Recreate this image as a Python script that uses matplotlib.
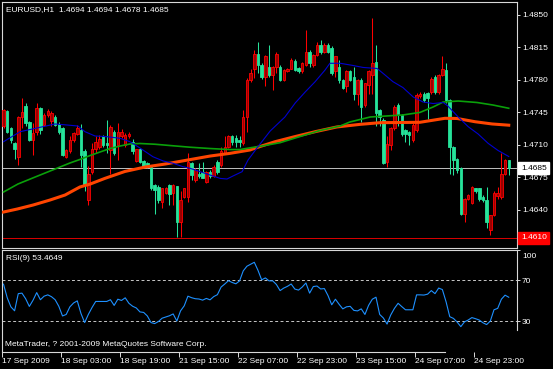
"""EURUSD H1 candlestick chart with three moving averages and RSI(9),
drawn in the MetaTrader dark style."""

import matplotlib
matplotlib.use("Agg")
import matplotlib.pyplot as plt
import matplotlib.transforms as mtransforms
import numpy as np

# ---- data ------------------------------------------------------------------
OPEN = [
    1.4730, 1.4746, 1.4728, 1.4712, 1.4697, 1.4740, 1.4752, 1.4735, 1.4715, 1.4724,
    1.4750, 1.4731, 1.4742, 1.4736, 1.4740, 1.4732, 1.4728, 1.4697, 1.4703, 1.4715,
    1.4722, 1.4726, 1.4703, 1.4651, 1.4681, 1.4706, 1.4708, 1.4719, 1.4712, 1.4704,
    1.4724, 1.4710, 1.4719, 1.4710, 1.4719, 1.4713, 1.4693, 1.4705, 1.4693, 1.4690,
    1.4686, 1.4667, 1.4665, 1.4649, 1.4658, 1.4667, 1.4658, 1.4666, 1.4627, 1.4654,
    1.4654, 1.4690, 1.4672, 1.4679, 1.4681, 1.4670, 1.4681, 1.4676, 1.4692, 1.4688,
    1.4701, 1.4708, 1.4719, 1.4717, 1.4715, 1.4712, 1.4740, 1.4780, 1.4791, 1.4808,
    1.4796, 1.4783, 1.4794, 1.4785, 1.4794, 1.4794, 1.4780, 1.4789, 1.4792, 1.4800,
    1.4793, 1.4789, 1.4796, 1.4810, 1.4796, 1.4807, 1.4817, 1.4810, 1.4817, 1.4814,
    1.4789, 1.4794, 1.4780, 1.4773, 1.4789, 1.4783, 1.4765, 1.4780, 1.4753, 1.4774,
    1.4785, 1.4799, 1.4747, 1.4737, 1.4692, 1.4710, 1.4728, 1.4753, 1.4742, 1.4726,
    1.4724, 1.4715, 1.4726, 1.4762, 1.4765, 1.4766, 1.4767, 1.4783, 1.4767, 1.4785,
    1.4790, 1.4758, 1.4708, 1.4695, 1.4685, 1.4636, 1.4652, 1.4647, 1.4663, 1.4663,
    1.4654, 1.4651, 1.4618, 1.4635, 1.4655, 1.4654, 1.4679, 1.4694,
]
HIGH = [
    1.4748, 1.4747, 1.4729, 1.4713, 1.4741, 1.4760, 1.4755, 1.4736, 1.4733, 1.4755,
    1.4751, 1.4744, 1.4748, 1.4746, 1.4742, 1.4735, 1.4729, 1.4706, 1.4719, 1.4724,
    1.4731, 1.4732, 1.4706, 1.4687, 1.4712, 1.4719, 1.4721, 1.4721, 1.4737, 1.4731,
    1.4726, 1.4733, 1.4727, 1.4723, 1.4724, 1.4716, 1.4706, 1.4707, 1.4694, 1.4692,
    1.4687, 1.4668, 1.4667, 1.4664, 1.4665, 1.4668, 1.4668, 1.4666, 1.4660, 1.4664,
    1.4701, 1.4692, 1.4685, 1.4690, 1.4692, 1.4682, 1.4683, 1.4688, 1.4694, 1.4708,
    1.4719, 1.4721, 1.4721, 1.4721, 1.4719, 1.4747, 1.4782, 1.4791, 1.4812, 1.4821,
    1.4798, 1.4807, 1.4817, 1.4795, 1.4810, 1.4796, 1.4792, 1.4793, 1.4803, 1.4802,
    1.4794, 1.4799, 1.4833, 1.4812, 1.4808, 1.4821, 1.4823, 1.4819, 1.4819, 1.4816,
    1.4806, 1.4801, 1.4781, 1.4790, 1.4790, 1.4794, 1.4781, 1.4782, 1.4777, 1.4790,
    1.4846, 1.4817, 1.4748, 1.4739, 1.4720, 1.4729, 1.4753, 1.4755, 1.4743, 1.4727,
    1.4725, 1.4733, 1.4766, 1.4767, 1.4767, 1.4767, 1.4783, 1.4785, 1.4786, 1.4805,
    1.4798, 1.4759, 1.4709, 1.4696, 1.4686, 1.4653, 1.4657, 1.4666, 1.4664, 1.4664,
    1.4656, 1.4665, 1.4635, 1.4660, 1.4665, 1.4701, 1.4695, 1.4694,
]
LOW = [
    1.4728, 1.4723, 1.4712, 1.4695, 1.4688, 1.4728, 1.4730, 1.4714, 1.4699, 1.4721,
    1.4722, 1.4730, 1.4740, 1.4730, 1.4730, 1.4722, 1.4698, 1.4696, 1.4701, 1.4713,
    1.4721, 1.4686, 1.4660, 1.4645, 1.4679, 1.4701, 1.4705, 1.4708, 1.4701, 1.4679,
    1.4699, 1.4694, 1.4717, 1.4708, 1.4717, 1.4700, 1.4691, 1.4690, 1.4686, 1.4685,
    1.4661, 1.4636, 1.4647, 1.4642, 1.4657, 1.4645, 1.4645, 1.4611, 1.4611, 1.4653,
    1.4649, 1.4672, 1.4670, 1.4674, 1.4674, 1.4669, 1.4674, 1.4675, 1.4679, 1.4686,
    1.4701, 1.4707, 1.4710, 1.4708, 1.4708, 1.4710, 1.4724, 1.4778, 1.4782, 1.4787,
    1.4781, 1.4773, 1.4783, 1.4769, 1.4787, 1.4779, 1.4779, 1.4788, 1.4791, 1.4789,
    1.4787, 1.4787, 1.4795, 1.4794, 1.4794, 1.4805, 1.4808, 1.4809, 1.4809, 1.4785,
    1.4783, 1.4776, 1.4770, 1.4767, 1.4779, 1.4758, 1.4753, 1.4735, 1.4751, 1.4765,
    1.4765, 1.4730, 1.4730, 1.4689, 1.4686, 1.4704, 1.4726, 1.4730, 1.4720, 1.4713,
    1.4710, 1.4713, 1.4724, 1.4760, 1.4756, 1.4738, 1.4765, 1.4765, 1.4765, 1.4784,
    1.4755, 1.4679, 1.4678, 1.4680, 1.4635, 1.4627, 1.4651, 1.4646, 1.4658, 1.4650,
    1.4649, 1.4620, 1.4613, 1.4633, 1.4652, 1.4652, 1.4678, 1.4678,
]
CLOSE = [
    1.4747, 1.4724, 1.4715, 1.4706, 1.4740, 1.4745, 1.4733, 1.4715, 1.4723, 1.4750,
    1.4726, 1.4742, 1.4746, 1.4744, 1.4731, 1.4724, 1.4699, 1.4704, 1.4715, 1.4723,
    1.4728, 1.4699, 1.4668, 1.4679, 1.4706, 1.4713, 1.4716, 1.4710, 1.4710, 1.4729,
    1.4701, 1.4724, 1.4724, 1.4721, 1.4722, 1.4703, 1.4705, 1.4692, 1.4687, 1.4686,
    1.4663, 1.4661, 1.4651, 1.4663, 1.4663, 1.4657, 1.4667, 1.4627, 1.4651, 1.4663,
    1.4692, 1.4678, 1.4683, 1.4676, 1.4674, 1.4681, 1.4676, 1.4686, 1.4681, 1.4703,
    1.4708, 1.4719, 1.4713, 1.4713, 1.4713, 1.4740, 1.4780, 1.4787, 1.4808, 1.4796,
    1.4783, 1.4805, 1.4785, 1.4794, 1.4808, 1.4780, 1.4790, 1.4792, 1.4801, 1.4790,
    1.4789, 1.4798, 1.4810, 1.4798, 1.4807, 1.4817, 1.4810, 1.4817, 1.4810, 1.4787,
    1.4805, 1.4780, 1.4771, 1.4789, 1.4780, 1.4765, 1.4780, 1.4751, 1.4776, 1.4789,
    1.4798, 1.4744, 1.4740, 1.4690, 1.4711, 1.4728, 1.4751, 1.4742, 1.4722, 1.4722,
    1.4721, 1.4731, 1.4764, 1.4765, 1.4758, 1.4760, 1.4781, 1.4767, 1.4785, 1.4792,
    1.4758, 1.4708, 1.4694, 1.4683, 1.4636, 1.4652, 1.4656, 1.4665, 1.4660, 1.4652,
    1.4651, 1.4627, 1.4634, 1.4658, 1.4658, 1.4679, 1.4694, 1.4685,
]

# moving averages, sampled at bar positions
MA_FAST_BAR = [0, 4.5, 10.7, 14, 17.2, 20.2, 22.1, 24.8, 28.1, 31.6, 34.3, 37,
               40.5, 43.3, 46, 48.7, 50.6, 53.3, 56, 58.7, 60.6, 62.2, 64.7,
               66.3, 69, 72.3, 76.3, 79.1, 81.8, 84.5, 87.2, 88.5, 91.3, 94.8,
               97.5, 101.3, 102.9, 105.6, 108.3, 111.1, 113.8, 116.5, 119.2,
               120.5, 123.3, 126, 128.7, 131.4, 134.1, 137]
MA_FAST = [1.47133, 1.47241, 1.47295, 1.47324, 1.47313, 1.47302, 1.47241,
           1.47195, 1.47187, 1.47170, 1.47133, 1.47066, 1.46972, 1.46926,
           1.46901, 1.46864, 1.46847, 1.46811, 1.46775, 1.46739, 1.46732,
           1.46764, 1.46811, 1.46936, 1.47080, 1.47248, 1.47399, 1.47550,
           1.47668, 1.47779, 1.47905, 1.47977, 1.47977, 1.47953, 1.47932,
           1.47921, 1.47869, 1.47779, 1.47716, 1.47614, 1.47560, 1.47544,
           1.47555, 1.47517, 1.47399, 1.47295, 1.47216, 1.47116, 1.47039,
           1.46974]
MA_MID_BAR = [0, 3.9, 8.8, 14, 18, 20.7, 23.5, 26.2, 28.9, 31.6, 34.3, 37,
              41.1, 45.2, 50.6, 56, 61.4, 64.1, 67.4, 70.1, 75, 80.4, 85.8,
              91.3, 93.9, 99.4, 108.3, 112.9, 116.5, 119.2, 123.3, 128.4,
              132.7, 137]
MA_MID = [1.46592, 1.46678, 1.46757, 1.46840, 1.46904, 1.46942, 1.46985,
          1.47023, 1.47060, 1.47087, 1.47109, 1.47114, 1.47106, 1.47092,
          1.47074, 1.47060, 1.47049, 1.47049, 1.47071, 1.47087, 1.47123,
          1.47189, 1.47254, 1.47302, 1.47345, 1.47399, 1.47421, 1.47448,
          1.47507, 1.47560, 1.47571, 1.47555, 1.47528, 1.47493]
MA_SLOW_BAR = [0, 3.7, 8, 12.6, 16.7, 20.7, 23.5, 27.5, 32.9, 38.4, 43.8,
               49.2, 56, 61.4, 66.8, 69.6, 73.6, 79.1, 84.5, 90.4, 96.7,
               102.1, 112.9, 119.7, 123, 127.9, 132.5, 137]
MA_SLOW = [1.46377, 1.46409, 1.46452, 1.46506, 1.46560, 1.46646, 1.46678,
           1.46739, 1.46813, 1.46861, 1.46893, 1.46931, 1.46979, 1.47008,
           1.47044, 1.47082, 1.47133, 1.47189, 1.47241, 1.47292, 1.47320,
           1.47338, 1.47342, 1.47385, 1.47383, 1.47348, 1.47324, 1.47311]

RSI = [
    66.3, 53.0, 44.0, 40.1, 57.0, 57.5, 52.0, 44.4, 50.5, 58.0,
    51.0, 54.5, 55.8, 54.0, 51.0, 44.5, 35.0, 36.5, 44.0, 47.8,
    49.9, 37.5, 28.5, 36.5, 43.3, 49.3, 49.3, 49.3, 49.3, 51.0,
    45.4, 51.5, 50.3, 52.9, 47.5, 44.6, 42.9, 39.0, 38.5, 35.0,
    28.5, 27.5, 29.5, 32.8, 34.0, 35.2, 37.0, 30.0, 40.0, 45.0,
    54.5, 53.0, 52.0, 51.7, 50.6, 52.3, 50.9, 54.1, 56.0, 63.5,
    66.5, 69.8, 68.0, 66.7, 69.5, 79.4, 84.0, 86.0, 87.9, 80.0,
    70.6, 72.5, 69.6, 69.6, 66.0, 60.0, 62.5, 64.2, 66.5, 61.5,
    60.5, 63.5, 67.5, 57.5, 64.0, 64.5, 61.6, 62.0, 55.0, 46.0,
    51.5, 46.5, 42.0, 44.0, 44.5, 40.5, 40.0, 42.0, 36.5, 45.5,
    51.5, 53.5, 36.5, 33.0, 27.0, 36.0, 42.5, 47.5, 44.2, 41.1,
    41.1, 41.1, 55.8, 55.8, 55.6, 56.5, 60.0, 57.0, 62.5, 61.0,
    49.0, 34.3, 32.6, 29.0, 24.5, 29.2, 31.0, 33.4, 32.3, 31.0,
    28.3, 26.5, 30.0, 41.1, 42.5, 51.5, 55.5, 53.4649,
]

PRICE_TICKS = [1.4605, 1.4640, 1.4675, 1.4710, 1.4745, 1.4780, 1.4815, 1.4850]
BID = 1.4685
LEVEL = 1.4610
RSI_LEVELS = [30, 70]
DATE_BARS = [0, 16, 32, 48, 64, 80, 96, 112, 128]
DATE_LABELS = ["17 Sep 2009", "18 Sep 03:00", "18 Sep 19:00", "21 Sep 15:00",
               "22 Sep 07:00", "22 Sep 23:00", "23 Sep 15:00", "24 Sep 07:00",
               "24 Sep 23:00"]
TITLE = "EURUSD,H1  1.4694 1.4694 1.4678 1.4685"

# ---- style -------------------------------------------------------------------
FG = "white"
FRAME = "#d8d8d8"
UP_EDGE = "#ff0000"
UP_FACE = "#9a0000"
DOWN = "#26e39a"
W, H = 553, 369


def box(x0, y0, x1, y1):
    return [x0 / W, 1 - y1 / H, (x1 - x0) / W, (y1 - y0) / H]


def style_axes(ax):
    ax.set_facecolor("black")
    for s in ax.spines.values():
        s.set_color(FRAME)
        s.set_linewidth(0.8)
    ax.yaxis.tick_right()
    ax.tick_params(axis="y", direction="out", length=2.5, width=0.6,
                   color=FG, labelcolor=FG, labelsize=6, pad=1.5)


plt.rcParams["font.family"] = ["Liberation Sans", "DejaVu Sans"]
plt.rcParams["font.size"] = 6

fig = plt.figure(figsize=(W / 100, H / 100), dpi=100, facecolor="black")
ax = fig.add_axes(box(2, 2, 516.5, 248))
axr = fig.add_axes(box(2, 250, 516.5, 352), sharex=ax)
style_axes(ax)
style_axes(axr)

# ---- price panel -------------------------------------------------------------
x = np.arange(len(CLOSE))
o, h, l, c = (np.array(a) for a in (OPEN, HIGH, LOW, CLOSE))
up = c >= o
lo_body = np.minimum(o, c)
body = np.maximum(np.abs(c - o), 0.00004)

ax.axhline(BID, color="#c0c0c0", lw=0.7, zorder=1)
ax.axhline(LEVEL, color="#ff0000", lw=0.6, zorder=1)

ax.vlines(x[up], l[up], h[up], color=UP_EDGE, lw=0.75, zorder=3)
ax.vlines(x[~up], l[~up], h[~up], color=DOWN, lw=0.75, zorder=3)
ax.bar(x[up], body[up], bottom=lo_body[up], width=0.68, color=UP_FACE,
       edgecolor=UP_EDGE, lw=0.6, zorder=4)
ax.bar(x[~up], body[~up], bottom=lo_body[~up], width=0.68, color=DOWN,
       edgecolor=DOWN, lw=0.6, zorder=4)

ax.plot(MA_SLOW_BAR, MA_SLOW, color="#ff4500", lw=2.2, zorder=5)
ax.plot(MA_MID_BAR, MA_MID, color="#0aa00a", lw=1.2, zorder=5)
ax.plot(MA_FAST_BAR, MA_FAST, color="#0000d0", lw=0.8, zorder=6)

ax.set_xlim(-0.41, 139.1)
ax.set_ylim(1.4599, 1.48636)
ax.set_yticks(PRICE_TICKS)
ax.set_yticklabels([f"{t:.4f}" for t in PRICE_TICKS])
ax.tick_params(axis="x", bottom=False, labelbottom=False)

tag = mtransforms.blended_transform_factory(ax.transAxes, ax.transData)
ax.text(1.0085, BID, f"{BID:.4f}", transform=tag, va="center", ha="left",
        color="black", fontsize=6, zorder=10, clip_on=False,
        bbox=dict(boxstyle="square,pad=0.3", fc="white", ec="white"))
ax.text(1.0085, LEVEL, f"{LEVEL:.4f}", transform=tag, va="center", ha="left",
        color="white", fontsize=6, zorder=10, clip_on=False,
        bbox=dict(boxstyle="square,pad=0.3", fc="#ff0000", ec="#ff0000"))

fig.text(6 / W, 1 - 9.5 / H, TITLE, color=FG, fontsize=6, va="center")

# ---- RSI panel ---------------------------------------------------------------
for lev in RSI_LEVELS:
    axr.axhline(lev, color="#c8c8c8", lw=0.7, ls=(0, (3, 2.5)), zorder=1)
axr.plot(x, RSI, color="#1e90ff", lw=0.8, zorder=3)
axr.set_ylim(-0.5, 99.75)
axr.set_yticks([30, 70, 100])
axr.set_yticklabels(["30", "70", "100"])
top_lbl = axr.get_yticklabels()[-1]
top_lbl.set_transform(top_lbl.get_transform() +
                      mtransforms.ScaledTranslation(0, -5 / 100,
                                                    fig.dpi_scale_trans))
axr.spines["right"].set_bounds(21, 99.75)
axr.spines["bottom"].set_bounds(-0.41, 119.7)

axr.set_xticks([b - 0.3 for b in DATE_BARS])
axr.set_xticklabels(DATE_LABELS)
axr.tick_params(axis="x", direction="out", length=3.5, width=0.6, color=FG,
                labelcolor=FG, labelsize=6, pad=0.5)
for lbl in axr.get_xticklabels():
    lbl.set_ha("left")

fig.text(6 / W, 1 - 258 / H, f"RSI(9) {RSI[-1]:.4f}",
         color=FG, fontsize=6, va="center")
fig.text(5 / W, 1 - 345 / H, "MetaTrader, ? 2001-2009 MetaQuotes Software Corp.",
         color=FG, fontsize=6, va="center")

fig.savefig("out.png", dpi=100, facecolor="black")
